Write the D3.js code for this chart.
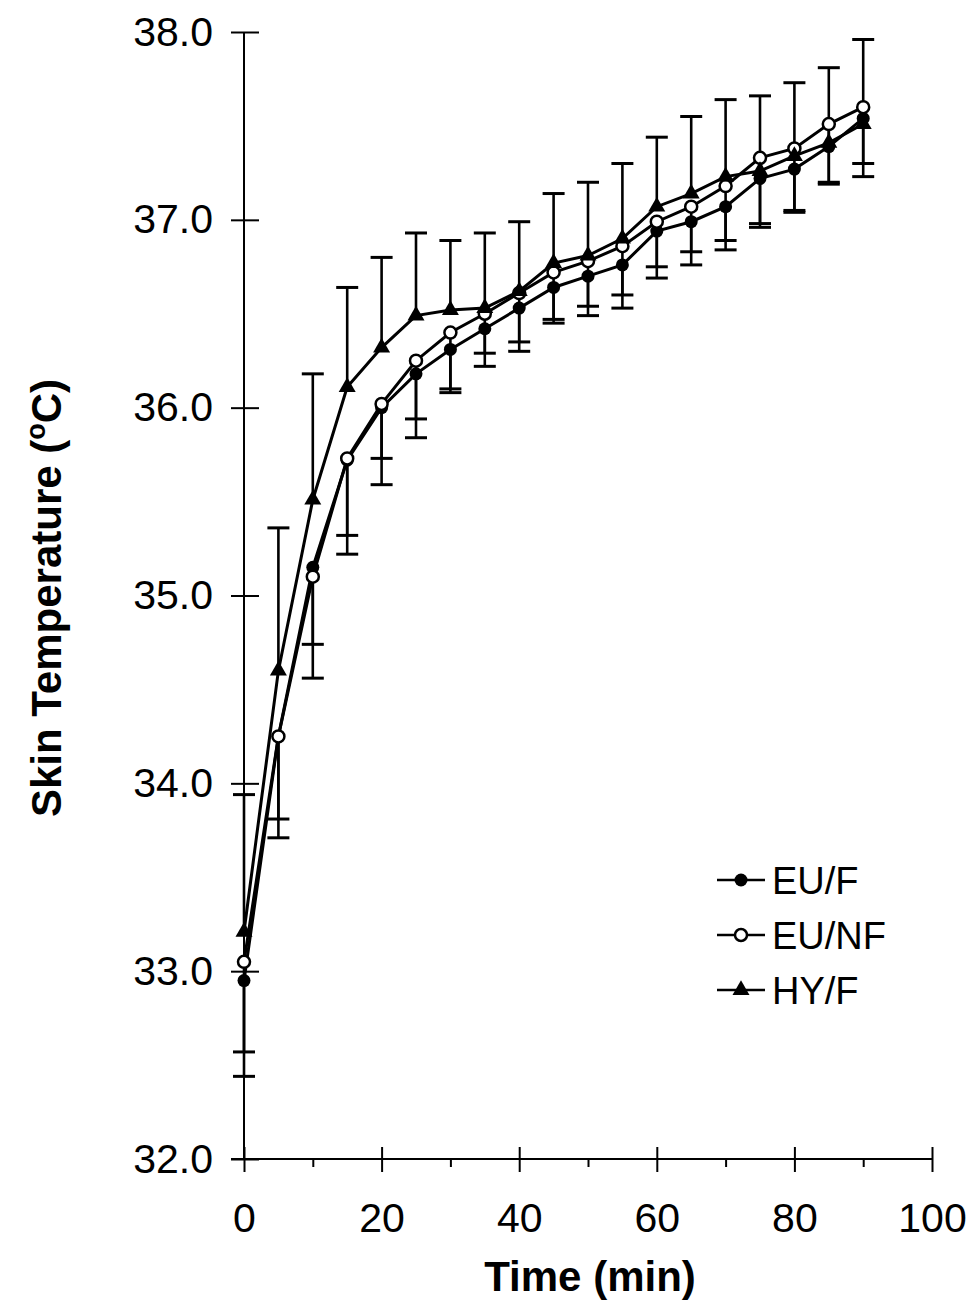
<!DOCTYPE html>
<html>
<head>
<meta charset="utf-8">
<script src="https://cdn.jsdelivr.net/npm/d3@7"></script>
<style>
  body { margin: 0; background: #fff; }
  svg { display: block; }
  text { font-family: "Liberation Sans", Arial, sans-serif; fill: #000; }
</style>
</head>
<body>
<svg width="973" height="1303"></svg>
<script>
// time points (min)
const times = [0, 5, 10, 15, 20, 25, 30, 35, 40, 45, 50, 55, 60, 65, 70, 75, 80, 85, 90];

// means (deg C)
const euF  = [32.95, 34.25, 35.15, 35.72, 36.00, 36.18, 36.31, 36.42, 36.53, 36.64, 36.70, 36.76, 36.94, 36.99, 37.07, 37.22, 37.27, 37.39, 37.54];
const euNF = [33.05, 34.25, 35.10, 35.73, 36.02, 36.25, 36.40, 36.50, 36.61, 36.72, 36.78, 36.86, 36.99, 37.07, 37.18, 37.33, 37.38, 37.51, 37.60];
const hyF  = [33.21, 34.60, 35.51, 36.11, 36.32, 36.49, 36.52, 36.53, 36.62, 36.77, 36.81, 36.90, 37.07, 37.14, 37.23, 37.26, 37.34, 37.41, 37.51];

// SD bars (EU groups drawn downward, HY upward)
const euFsd  = [0.51, 0.54, 0.59, 0.50, 0.41, 0.34, 0.23, 0.20, 0.23, 0.19, 0.21, 0.23, 0.25, 0.23, 0.23, 0.26, 0.23, 0.20, 0.31];
const euNFsd = [0.48, 0.44, 0.36, 0.41, 0.29, 0.31, 0.30, 0.21, 0.26, 0.25, 0.24, 0.26, 0.24, 0.24, 0.29, 0.35, 0.33, 0.31, 0.30];
const hyFsd  = [0.73, 0.76, 0.67, 0.53, 0.48, 0.44, 0.37, 0.40, 0.37, 0.37, 0.39, 0.40, 0.37, 0.41, 0.41, 0.40, 0.39, 0.40, 0.45];

const xMajor = [0, 20, 40, 60, 80, 100];
const xMinor = [10, 30, 50, 70, 90];
const yTicks = [32, 33, 34, 35, 36, 37, 38];

const seriesNames = ["EU/F", "EU/NF", "HY/F"];

const svg = d3.select("svg");
const x = d3.scaleLinear().domain([0, 100]).range([244, 932]);
const y = d3.scaleLinear().domain([32, 38]).range([1159, 32]);

const series = [
  {name: seriesNames[0], vals: euF,  sd: euFsd,  dir: -1, shape: "dot"},
  {name: seriesNames[1], vals: euNF, sd: euNFsd, dir: -1, shape: "open"},
  {name: seriesNames[2], vals: hyF,  sd: hyFsd,  dir: 1,  shape: "tri"}
];

// axes
const axisG = svg.append("g");
axisG.append("line")
  .attr("x1", x(0)).attr("x2", x(0))
  .attr("y1", y(38)).attr("y2", y(32))
  .attr("stroke", "#000").attr("stroke-width", 2);
axisG.append("line")
  .attr("x1", x(0) - 13).attr("x2", x(100))
  .attr("y1", y(32)).attr("y2", y(32))
  .attr("stroke", "#000").attr("stroke-width", 2);

const yAxis = axisG.append("g")
  .attr("transform", `translate(${x(0)},0)`)
  .call(d3.axisLeft(y).tickValues(yTicks).tickSize(13).tickPadding(18).tickFormat(d3.format(".1f")));
yAxis.select(".domain").remove();
yAxis.selectAll(".tick line").attr("x1", 15).attr("stroke-width", 2);
yAxis.selectAll(".tick text").attr("font-size", 41).attr("font-family", "Liberation Sans, Arial, sans-serif");

const xAxis = axisG.append("g")
  .attr("transform", `translate(0,${y(32)})`)
  .call(d3.axisBottom(x).tickValues(xMajor).tickSize(13).tickPadding(31).tickFormat(d3.format("d")));
xAxis.select(".domain").remove();
xAxis.selectAll(".tick line").attr("y1", -12).attr("stroke-width", 2);
xAxis.selectAll(".tick text").attr("font-size", 41).attr("font-family", "Liberation Sans, Arial, sans-serif");

const xAxisMinor = axisG.append("g")
  .attr("transform", `translate(0,${y(32)})`)
  .call(d3.axisBottom(x).tickValues(xMinor).tickSize(8).tickFormat(""));
xAxisMinor.select(".domain").remove();
xAxisMinor.selectAll(".tick line").attr("stroke-width", 2);

// axis titles
svg.append("text")
  .attr("x", 590).attr("y", 1291)
  .attr("text-anchor", "middle")
  .attr("font-size", 42).attr("font-weight", "bold")
  .text("Time (min)");

const yTitle = svg.append("text")
  .attr("transform", `translate(61,598) rotate(-90)`)
  .attr("text-anchor", "middle")
  .attr("font-size", 42).attr("font-weight", "bold");
yTitle.append("tspan").text("Skin Temperature (");
yTitle.append("tspan").attr("font-size", 27).attr("dy", -16).text("o");
yTitle.append("tspan").attr("dy", 16).text("C)");

// error bars
const capW = 11;
const errG = svg.append("g").attr("stroke", "#000").attr("stroke-width", 2.6);
series.forEach(s => {
  times.forEach((t, i) => {
    const end = s.vals[i] + s.dir * s.sd[i];
    errG.append("line")
      .attr("x1", x(t)).attr("x2", x(t))
      .attr("y1", y(s.vals[i])).attr("y2", y(end));
    errG.append("line")
      .attr("x1", x(t) - capW).attr("x2", x(t) + capW)
      .attr("y1", y(end)).attr("y2", y(end))
      .attr("stroke-width", 3);
  });
});

// lines
const line = d3.line().x((d, i) => x(times[i])).y(d => y(d));
series.forEach(s => {
  svg.append("path")
    .datum(s.vals)
    .attr("d", line)
    .attr("fill", "none")
    .attr("stroke", "#000")
    .attr("stroke-width", 3);
});

function drawMarker(g, shape, cx, cy) {
  if (shape === "dot") {
    g.append("circle").attr("cx", cx).attr("cy", cy).attr("r", 6.5).attr("fill", "#000");
  } else if (shape === "open") {
    g.append("circle").attr("cx", cx).attr("cy", cy).attr("r", 6)
      .attr("fill", "#fff").attr("stroke", "#000").attr("stroke-width", 2.5);
  } else {
    g.append("path")
      .attr("d", d3.symbol().type(d3.symbolTriangle).size(125)())
      .attr("transform", `translate(${cx},${cy})`)
      .attr("fill", "#000");
  }
}

// markers
const markG = svg.append("g");
series.forEach(s => {
  times.forEach((t, i) => drawMarker(markG, s.shape, x(t), y(s.vals[i])));
});

// legend
const legendY = [880, 935, 990];
const legG = svg.append("g");
series.forEach((s, i) => {
  const ly = legendY[i];
  legG.append("line")
    .attr("x1", 717).attr("x2", 765)
    .attr("y1", ly).attr("y2", ly)
    .attr("stroke", "#000").attr("stroke-width", 2.5);
  drawMarker(legG, s.shape, 741, ly);
  legG.append("text")
    .attr("x", 772).attr("y", ly + 14)
    .attr("font-size", 38)
    .text(s.name);
});
</script>
</body>
</html>
